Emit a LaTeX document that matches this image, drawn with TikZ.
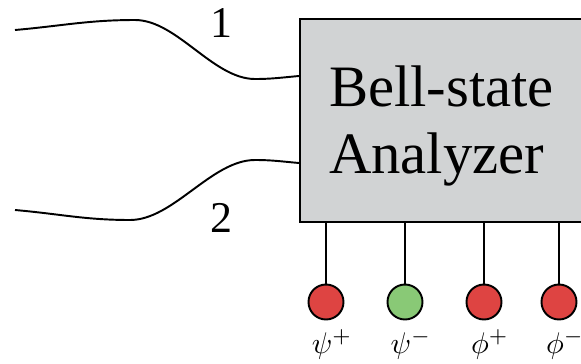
\documentclass[tikz,border=0pt]{standalone}
\usepackage{amsmath}
\usepackage{fontspec}
\setmainfont{Liberation Serif}
\usepackage{xcolor}
\usepackage{tikz}
\usetikzlibrary{positioning}
\usetikzlibrary{calc}

\definecolor{boxgray}{RGB}{209,211,212}
\definecolor{detred}{RGB}{222,68,66}
\definecolor{detgreen}{RGB}{137,201,118}
\newcommand{\statelab}[1]{\scalebox{1.7}{$#1$}}

\begin{document}
\begin{tikzpicture}[line width=1.1pt,
		wire/.style={line width=1.1pt},
		detector/.style={draw, circle, minimum size=0.7cm, inner sep=0pt},
		statelabel/.style={below=1.5pt of #1, xshift=0.12cm}]
			\useasboundingbox (0,0) rectangle (11.62,7.26);
			% Analyzer box and its text
			\node[draw, rectangle, fill=boxgray, minimum width=5.66cm, minimum height=4.06cm] (bsa) at (8.83,4.85) {};
			\node[align=left, font=\fontsize{33.4}{38}\selectfont] (bsatext) at (8.83,4.74) {Bell-state\\Analyzer};

			% Input photons
			\coordinate (in1) at (0.3,6.66);
			\coordinate (in2) at (0.3,3.06);
			\draw[wire] (in1) to[out=5,in=180] ++(2.4,0.2) to[out=0,in=180,looseness=0.8] ++(2.4,-1.18) to[out=0,in=185] ([yshift=0.89cm]bsa.west);
			\draw[wire] (in2) to[out=-5,in=180] ++(2.3,-0.2) to[out=0,in=180,looseness=0.8] ++(2.5,1.2) to[out=0,in=175] ([yshift=-0.85cm]bsa.west);
			\node[font=\fontsize{25}{30}\selectfont] (lab1) at (4.42,6.8) {1};
			\node[font=\fontsize{25}{30}\selectfont] (lab2) at (4.42,2.9) {2};

			% Detectors
			\node[detector, fill=detred] (d1) at (6.52,1.22) {};
			\node[detector, fill=detgreen] (d2) at (8.10,1.22) {};
			\node[detector, fill=detred] (d3) at (9.68,1.22) {};
			\node[detector, fill=detred] (d4) at (11.18,1.22) {};

			\draw (d1) -- (d1 |- bsa.south);
			\draw (d2) -- (d2 |- bsa.south);
			\draw (d3) -- (d3 |- bsa.south);
			\draw (d4) -- (d4 |- bsa.south);

			\node[statelabel=d1] (l1) {\statelab{\psi^+}};
			\node[statelabel=d2] (l2) {\statelab{\psi^-}};
			\node[statelabel=d3] (l3) {\statelab{\phi^+}};
			\node[statelabel=d4] (l4) {\statelab{\phi^-}};
		\end{tikzpicture}
\end{document}
